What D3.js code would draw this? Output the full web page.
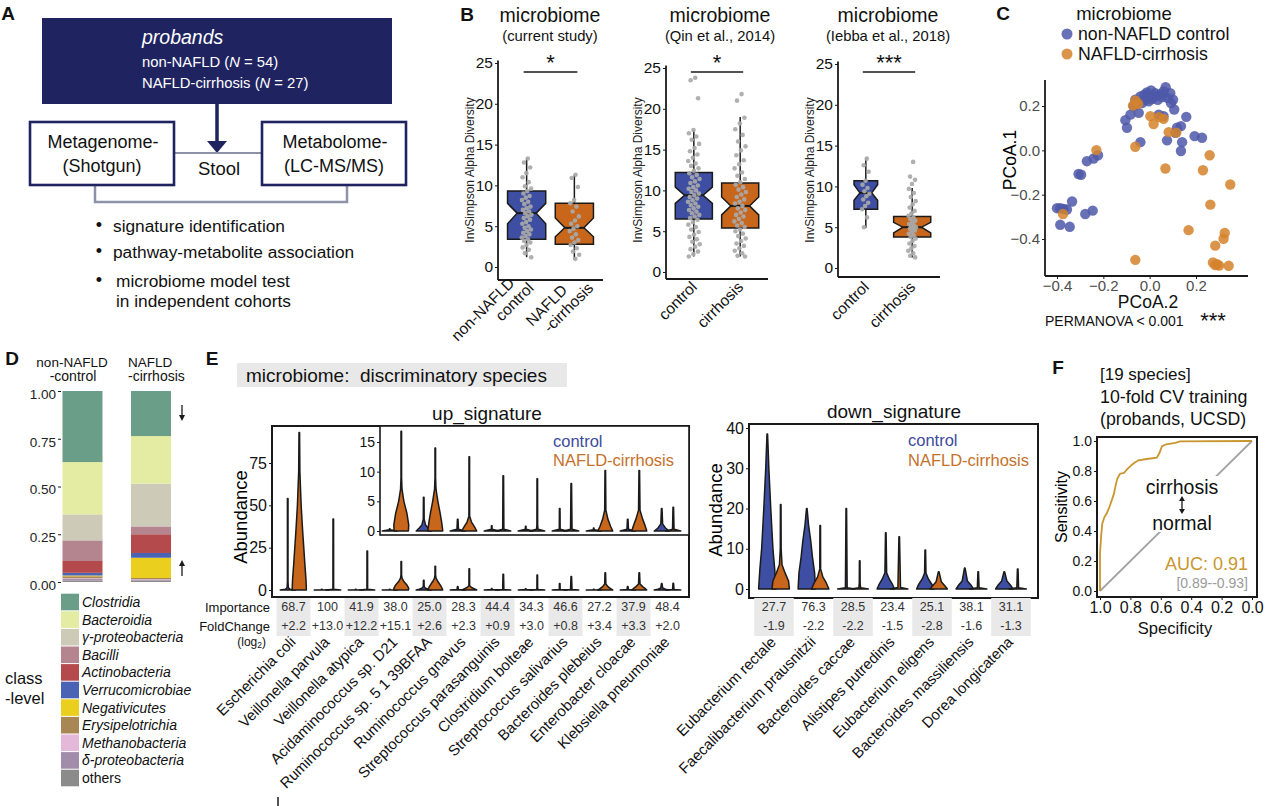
<!DOCTYPE html>
<html>
<head>
<meta charset="utf-8">
<script src="https://cdn.jsdelivr.net/npm/d3@7"></script>
<style>
	body { margin: 0; background: #fff; }
	svg { font-family: "Liberation Sans", Arial, Helvetica, sans-serif; }
	text { white-space: pre; }
</style>
</head>
<body>
<script>

// ---- A : study design
var cohortNames = ['non-NAFLD', 'NAFLD-cirrhosis']
var cohortN = [54, 27]
var analyses = ['signature identification', 'pathway-metabolite association', 'microbiome model test']

// ---- B : alpha diversity
var bStudies = ['(current study)', '(Qin et al., 2014)', '(Iebba et al., 2018)']
var bGroups = [[['non-NAFLD', 'control'], ['NAFLD', '-cirrhosis']], [['control'], ['cirrhosis']], [['control'], ['cirrhosis']]]
var bStars = ['*', '*', '***']
var bTicks = [0, 5, 10, 15, 20, 25]
// [whiskerLo, q1, notchLo, median, notchHi, q3, whiskerHi]
var bBoxCtrl = [[1.2, 3.4, 5.3, 6.6, 7.8, 9.3, 13.3], [1.9, 6.5, 8.4, 9.4, 10.4, 12.2, 17.4], [4.9, 7.2, 8.3, 9.2, 10.2, 10.7, 13.4]]
var bBoxCirr = [[0.9, 2.8, 3.7, 4.8, 6.0, 7.8, 11.3], [1.9, 5.4, 7.0, 8.1, 9.2, 10.9, 19.0], [1.3, 3.8, 4.3, 5.0, 5.6, 6.3, 9.8]]
var bPtsCtrl = [
	[13.3, 12.8, 12.2, 11.5, 11.0, 10.4, 9.9, 9.6, 9.3, 9.0, 8.7, 8.5, 8.2, 8.0, 7.7, 7.4, 7.2, 7.0, 6.8, 6.6, 6.4, 6.2, 6.0, 5.8, 5.5, 5.3, 5.0, 4.8, 4.6, 4.4, 4.2, 4.0, 3.8, 3.6, 3.4, 3.2, 3.0, 2.7, 2.4, 2.1, 1.7, 1.2],
	[23.8, 23.5, 21.3, 17.4, 17.0, 16.6, 16.2, 15.7, 15.2, 14.8, 14.4, 14.0, 13.6, 13.3, 13.0, 12.7, 12.4, 12.1, 11.9, 11.6, 11.4, 11.1, 10.9, 10.6, 10.4, 10.2, 10.0, 9.8, 9.6, 9.4, 9.2, 9.0, 8.8, 8.6, 8.4, 8.2, 8.0, 7.8, 7.6, 7.4, 7.2, 7.0, 6.8, 6.6, 6.4, 6.1, 5.8, 5.5, 5.2, 4.9, 4.6, 4.3, 4.0, 3.7, 3.4, 3.1, 2.8, 2.5, 2.2, 1.9],
	[13.4, 12.6, 11.8, 10.7, 10.2, 9.8, 9.4, 9.1, 8.8, 8.4, 8.0, 7.6, 7.2, 6.2, 5.0]
]
var bPtsCirr = [
	[11.3, 10.9, 9.8, 8.2, 7.8, 7.4, 6.8, 6.2, 5.7, 5.3, 5.0, 4.7, 4.4, 4.0, 3.6, 3.3, 3.0, 2.7, 2.3, 1.9, 1.5, 1.0],
	[21.8, 21.0, 18.9, 18.2, 17.5, 16.8, 16.0, 15.4, 14.9, 14.3, 13.7, 13.2, 12.7, 12.2, 11.8, 11.4, 11.0, 10.7, 10.4, 10.1, 9.8, 9.5, 9.2, 8.9, 8.6, 8.4, 8.1, 7.8, 7.6, 7.3, 7.0, 6.8, 6.5, 6.2, 6.0, 5.7, 5.5, 5.2, 5.0, 4.7, 4.4, 4.1, 3.8, 3.5, 3.2, 2.9, 2.6, 2.3, 2.0, 1.9],
	[13.0, 11.2, 10.8, 10.3, 9.7, 9.2, 8.7, 8.2, 7.8, 7.4, 7.0, 6.7, 6.4, 6.2, 6.0, 5.8, 5.6, 5.4, 5.2, 5.1, 5.0, 4.9, 4.8, 4.6, 4.4, 4.2, 4.0, 3.8, 3.6, 3.3, 3.0, 2.7, 2.4, 2.1, 1.8, 1.5, 1.3]
]

// ---- C : PCoA
var cTicks = [-0.4, -0.2, 0.0, 0.2]
var cCtrlX = [-0.400, -0.386, -0.371, -0.357, -0.335, -0.386, -0.345, -0.307, -0.296, -0.271, -0.242, -0.223, -0.278, -0.246, -0.105, -0.098, -0.083, -0.069, -0.047, -0.062, -0.040, -0.023, -0.012, 0.006, 0.017, 0.035, 0.046, 0.060, 0.069, 0.078, 0.092, 0.106, 0.039, 0.060, 0.118, 0.135, 0.158, 0.111, 0.075, -0.040, 0.140, 0.135, 0.194, 0.226, -0.004, 0.010, -0.019, 0.024, 0.089, 0.101, -0.033, 0.030, 0.055, -0.010]
var cCtrlY = [-0.261, -0.261, -0.264, -0.267, -0.231, -0.336, -0.345, -0.107, -0.110, -0.049, -0.037, -0.022, -0.287, -0.272, 0.136, 0.102, 0.161, 0.199, 0.169, 0.228, 0.243, 0.251, 0.261, 0.270, 0.243, 0.228, 0.252, 0.266, 0.285, 0.236, 0.213, 0.184, 0.161, 0.154, 0.102, 0.109, 0.151, 0.079, 0.045, 0.037, 0.037, -0.003, 0.064, 0.057, 0.221, 0.231, 0.228, 0.258, 0.258, 0.228, 0.213, 0.245, 0.240, 0.245]
var cCirrX = [-0.230, -0.062, -0.062, -0.072, 0.003, 0.017, 0.068, 0.082, 0.060, 0.259, 0.230, 0.348, 0.262, 0.168, 0.324, 0.319, 0.283, 0.273, 0.291, 0.341, 0.283, -0.062, -0.374, -0.050, 0.300, 0.115, 0.040]
var cCirrY = [0.001, 0.016, 0.225, 0.202, 0.154, 0.119, -0.082, 0.082, 0.142, -0.022, -0.090, -0.154, -0.245, -0.360, -0.373, -0.399, -0.430, -0.506, -0.514, -0.521, -0.518, -0.494, -0.287, 0.210, -0.520, 0.080, 0.150]

// ---- D : class-level composition
var dClasses = ['Clostridia', 'Bacteroidia', 'γ-proteobacteria', 'Bacilli', 'Actinobacteria', 'Verrucomicrobiae', 'Negativicutes', 'Erysipelotrichia', 'Methanobacteria', 'δ-proteobacteria', 'others']
var dColors = ['#6b9e89', '#e4eba2', '#cdcbb7', '#b4848f', '#b54a4c', '#4b63b5', '#ebcf1f', '#a98755', '#e3b8d9', '#a18ca9', '#8b8b8b']
var dCtrl = [0.372, 0.274, 0.136, 0.108, 0.062, 0.014, 0.004, 0.010, 0.004, 0.008, 0.008]
var dCirr = [0.236, 0.249, 0.224, 0.041, 0.098, 0.025, 0.106, 0.006, 0.002, 0.005, 0.008]
var dTicks = [0, 0.25, 0.5, 0.75, 1]

// ---- E : discriminatory species
var upSpecies = ['Escherichia coli', 'Veillonella parvula', 'Veillonella atypica', 'Acidaminococcus sp. D21', 'Ruminococcus sp. 5 1 39BFAA', 'Ruminococcus gnavus', 'Streptococcus parasanguinis', 'Clostridium bolteae', 'Streptococcus salivarius', 'Bacteroides plebeius', 'Enterobacter cloacae', 'Klebsiella pneumoniae']
var upImportance = [68.7, 100, 41.9, 38.0, 25.0, 28.3, 44.4, 34.3, 46.6, 27.2, 37.9, 48.4]
var upFold = [2.2, 13.0, 12.2, 15.1, 2.6, 2.3, 0.9, 3.0, 0.8, 3.4, 3.3, 2.0]
// violin profiles: [abundance, relative density]
var upCtrlDens = [
	[[0, 1], [0.5, 0.3], [1.5, 0.08], [5, 0.03], [54, 0.02]],
	[[0, 1], [0.2, 0.04], [0.4, 0.02]],
	[[0, 1], [0.2, 0.04], [0.4, 0.02]],
	[[0, 1], [0.2, 0.04], [0.4, 0.02]],
	[[0, 1], [0.5, 0.6], [1, 0.25], [2, 0.06], [5.7, 0.02]],
	[[0, 1], [0.3, 0.1], [2, 0.02]],
	[[0, 1], [0.3, 0.05], [0.9, 0.02]],
	[[0, 1], [0.3, 0.05], [0.8, 0.02]],
	[[0, 1], [0.3, 0.06], [3.8, 0.02]],
	[[0, 1], [0.2, 0.05], [0.5, 0.02]],
	[[0, 1], [0.3, 0.1], [2, 0.02]],
	[[0, 1], [0.5, 0.5], [1.2, 0.12], [3.8, 0.02]]
]
var upCirrDens = [
	[[0, 0.95], [6, 0.9], [15, 0.75], [25, 0.6], [35, 0.45], [50, 0.25], [70, 0.08], [93, 0.02]],
	[[0, 1], [0.4, 0.05], [42, 0.02]],
	[[0, 1], [0.4, 0.05], [23, 0.02]],
	[[0, 0.95], [1, 1], [3, 0.75], [5, 0.35], [7, 0.1], [9, 0.04], [16.8, 0.02]],
	[[0, 1], [1.5, 0.85], [3, 0.65], [5, 0.35], [7, 0.1], [9, 0.03], [14, 0.02]],
	[[0, 1], [0.7, 0.7], [1.5, 0.3], [2.5, 0.05], [12.5, 0.02]],
	[[0, 1], [0.3, 0.08], [9.3, 0.02]],
	[[0, 1], [0.3, 0.1], [1, 0.05], [8.8, 0.02]],
	[[0, 1], [0.3, 0.1], [8, 0.02]],
	[[0, 1], [0.8, 0.7], [2, 0.35], [3.5, 0.08], [10.2, 0.02]],
	[[0, 1], [1, 0.75], [2, 0.45], [3.5, 0.1], [10.2, 0.02]],
	[[0, 1], [0.3, 0.1], [4, 0.02]]
]
var upTicks = [0, 25, 50, 75]
var insetTicks = [0, 5, 10, 15]

var downSpecies = ['Eubacterium rectale', 'Faecalibacterium prausnitzii', 'Bacteroides caccae', 'Alistipes putredinis', 'Eubacterium eligens', 'Bacteroides massiliensis', 'Dorea longicatena']
var downImportance = [27.7, 76.3, 28.5, 23.4, 25.1, 38.1, 31.1]
var downFold = [-1.9, -2.2, -2.2, -1.5, -2.8, -1.6, -1.3]
var downCtrlDens = [
	[[0, 1], [5, 0.85], [10, 0.65], [20, 0.4], [30, 0.18], [38.5, 0.02]],
	[[0, 1], [4, 0.9], [8, 0.65], [12, 0.45], [16, 0.2], [20, 0.02]],
	[[0, 1], [0.3, 0.1], [20, 0.02]],
	[[0, 1], [1, 0.8], [2.5, 0.4], [4, 0.1], [14, 0.02]],
	[[0, 1], [1, 0.8], [2.5, 0.35], [4, 0.08], [9.7, 0.02]],
	[[0, 1], [1, 0.7], [2, 0.3], [5.2, 0.02]],
	[[0, 1], [1, 0.7], [2, 0.3], [4.3, 0.02]]
]
var downCirrDens = [
	[[0, 1], [2, 0.9], [4, 0.5], [6, 0.15], [10, 0.05], [21, 0.02]],
	[[0, 1], [1.5, 0.7], [3, 0.3], [5, 0.05], [15.8, 0.02]],
	[[0, 1], [0.3, 0.1], [1.5, 0.05], [7, 0.02]],
	[[0, 1], [0.4, 0.15], [13, 0.02]],
	[[0, 1], [0.8, 0.7], [1.8, 0.3], [4.3, 0.02]],
	[[0, 1], [0.3, 0.1], [4.3, 0.02]],
	[[0, 1], [0.3, 0.1], [5, 0.02]]
]
var downTicks = [0, 10, 20, 30, 40]

// ---- F : ROC
var rocSpec = [1.000, 1.000, 0.993, 0.985, 0.971, 0.956, 0.938, 0.923, 0.908, 0.897, 0.886, 0.868, 0.842, 0.824, 0.802, 0.776, 0.747, 0.692, 0.626, 0.609, 0.593, 0.565, 0.505, 0.473, 0.000]
var rocSens = [0.000, 0.249, 0.360, 0.449, 0.493, 0.516, 0.560, 0.604, 0.649, 0.704, 0.749, 0.782, 0.787, 0.809, 0.831, 0.853, 0.871, 0.880, 0.889, 0.920, 0.964, 0.978, 0.987, 0.998, 1.000]
var rocTicks = [0, 0.2, 0.4, 0.6, 0.8, 1]

// ------------------------------------------------------------

var BLUE = '#3e4ea2'
var ORANGE = '#c8661c'
var INK = '#1a1a1a'

var svg = d3.select('body')
	.append('svg')
	.attr('width', 1269)
	.attr('height', 806)

function txt(g, x, y, s, o) {
	o = o || {}
	return g.append('text')
		.attr('x', x)
		.attr('y', y)
		.attr('font-size', o.size || 14)
		.attr('text-anchor', o.anchor || 'start')
		.attr('dominant-baseline', 'central')
		.attr('fill', o.fill || '#111')
		.attr('font-style', o.italic ? 'italic' : null)
		.attr('font-weight', o.bold ? 'bold' : null)
		.text(s)
}

function styleAxis(a, size, color) {
	a.attr('font-family', null).attr('font-size', null)
	a.select('.domain').remove()
	a.selectAll('line').attr('stroke', INK)
	a.selectAll('text').attr('font-size', size).attr('fill', color || '#111')
}

function hline(g, x1, x2, y, w) {
	g.append('line').attr('x1', x1).attr('x2', x2).attr('y1', y).attr('y2', y)
		.attr('stroke', INK).attr('stroke-width', w || 1.6)
}

function vline(g, x, y1, y2, w) {
	g.append('line').attr('x1', x).attr('x2', x).attr('y1', y1).attr('y2', y2)
		.attr('stroke', INK).attr('stroke-width', w || 1.6)
}

// panel letters
var letters = [['A', 8, 13], ['B', 467, 14], ['C', 1003, 13], ['D', 12, 358], ['E', 212, 358], ['F', 1058, 367]]
letters.forEach(l => txt(svg, l[1], l[2], l[0], { size: 19, bold: true, anchor: 'middle' }))

// ======================= A =======================
var NAVY = '#1f2461'
var gA = svg.append('g')
gA.append('rect').attr('x', 42).attr('y', 18).attr('width', 350).attr('height', 86).attr('fill', NAVY)
txt(gA, 142, 37, 'probands', { size: 19.5, italic: true, fill: '#fff' })
cohortNames.forEach((c, i) => {
	var t = txt(gA, 142, 62 + i * 21, c + ' (', { size: 14.8, fill: '#fff' })
	t.append('tspan').attr('font-style', 'italic').text('N')
	t.append('tspan').text(' = ' + cohortN[i] + ')')
})
gA.append('line').attr('x1', 217).attr('x2', 217).attr('y1', 104).attr('y2', 143)
	.attr('stroke', NAVY).attr('stroke-width', 3.5)
gA.append('path').attr('d', 'M207,141 L227,141 L217,153 Z').attr('fill', NAVY)
gA.append('line').attr('x1', 173).attr('x2', 262).attr('y1', 153).attr('y2', 153)
	.attr('stroke', '#8d92a6').attr('stroke-width', 2.2)
gA.append('path').attr('d', 'M95,185 L95,202 L347,202 L347,185')
	.attr('fill', 'none').attr('stroke', '#8d92a6').attr('stroke-width', 2.5)
var boxesA = [[30, 'Metagenome-', '(Shotgun)'], [262, 'Metabolome-', '(LC-MS/MS)']]
boxesA.forEach(b => {
	gA.append('rect').attr('x', b[0]).attr('y', 122).attr('width', 144).attr('height', 63)
		.attr('fill', '#fff').attr('stroke', NAVY).attr('stroke-width', 2.6)
	txt(gA, b[0] + 73, 142, b[1], { size: 18, anchor: 'middle' })
	txt(gA, b[0] + 72, 166, b[2], { size: 18, anchor: 'middle' })
})
txt(gA, 219, 168, 'Stool', { size: 18.5, anchor: 'middle' })
analyses.forEach((s, i) => {
	var yy = [226, 252, 281][i]
	txt(gA, 99, yy - 1, '•', { size: 18, anchor: 'middle' })
	txt(gA, i === 2 ? 116 : 113, yy, s, { size: 17.3 })
})
txt(gA, 116, 301, 'in independent cohorts', { size: 17.3 })

// ======================= B =======================
var bAxisX = [498, 666, 838]
var bRight = [603, 768, 940]
var bZero = [267, 272, 268]
var bTop = [63, 68, 64]
var bBottom = [280, 279, 277]
var bTitleX = [550, 720, 888]
var bLabX = [470, 638, 810]

function notchBox(g, cx, hw, s, y, fill) {
	var ni = hw * 0.5
	vline(g, cx, y(s[6]), y(s[5]), 1.5)
	vline(g, cx, y(s[1]), y(s[0]), 1.5)
	var p = d3.path()
	p.moveTo(cx - hw, y(s[5])); p.lineTo(cx + hw, y(s[5])); p.lineTo(cx + hw, y(s[4]))
	p.lineTo(cx + hw - ni, y(s[3])); p.lineTo(cx + hw, y(s[2])); p.lineTo(cx + hw, y(s[1]))
	p.lineTo(cx - hw, y(s[1])); p.lineTo(cx - hw, y(s[2])); p.lineTo(cx - hw + ni, y(s[3]))
	p.lineTo(cx - hw, y(s[4])); p.closePath()
	g.append('path').attr('d', p.toString()).attr('fill', fill).attr('stroke', INK).attr('stroke-width', 1.5)
	hline(g, cx - hw + ni, cx + hw - ni, y(s[3]), 2)
}

bStudies.forEach((study, k) => {
	var g = svg.append('g')
	var y = d3.scaleLinear().domain([0, 25]).range([bZero[k], bTop[k]])
	var x = d3.scalePoint().domain([0, 1]).range([bAxisX[k], bRight[k]]).padding(0.6)
	txt(g, bTitleX[k], 15, 'microbiome', { size: 19.5, anchor: 'middle' })
	txt(g, bTitleX[k], 36, study, { size: 14.8, anchor: 'middle' })

	var ax = g.append('g').attr('transform', `translate(${bAxisX[k]},0)`)
		.call(d3.axisLeft(y).tickValues(bTicks).tickSize(3).tickPadding(2))
	styleAxis(ax, 15.5)
	vline(g, bAxisX[k], y(25.3), bBottom[k], 1.8)
	hline(g, bAxisX[k], bRight[k], bBottom[k], 1.8)
	g.append('text').attr('transform', `translate(${bLabX[k]},170) rotate(-90)`)
		.attr('text-anchor', 'middle').attr('dominant-baseline', 'central')
		.attr('font-size', 12).attr('fill', '#222').text('InvSimpson Alpha Diversity')

	var step = x.step()
	var nC = bPtsCtrl[k].length, nN = bPtsCirr[k].length
	var hwC = step * 0.4, hwN = step * 0.4
	if (k === 2) hwC = step * 0.4 * Math.sqrt(nC / nN)
	notchBox(g, x(0), hwC, bBoxCtrl[k], y, BLUE)
	notchBox(g, x(1), hwN, bBoxCirr[k], y, ORANGE)

	var jw = [5, 6, 4][k]
	var pts = bPtsCtrl[k].map((v, i) => [0, v, i]).concat(bPtsCirr[k].map((v, i) => [1, v, i]))
	g.selectAll('circle.pt').data(pts).join('circle')
		.attr('class', 'pt')
		.attr('cx', d => x(d[0]) + (((d[2] + 1) * 0.6180339) % 1 - 0.5) * 2 * jw)
		.attr('cy', d => y(d[1]))
		.attr('r', 2.3)
		.attr('fill', '#a9a9a9')
		.attr('opacity', 0.92)

	// significance
	hline(g, x(0) - 3, x(1) + 3, 72, 1.6)
	txt(g, (x(0) + x(1)) / 2, 62, bStars[k], { size: 22, anchor: 'middle' })

	// rotated group labels
	bGroups[k].forEach((lines, j) => {
		var cx = x(j)
		if (lines.length === 1) {
			g.append('text').attr('transform', `translate(${cx + 4},288) rotate(-45)`)
				.attr('text-anchor', 'end').attr('font-size', 15.5).attr('fill', '#111').text(lines[0])
		} else {
			var off = j === 0 ? [8, -10] : [20, -20]
			var t = g.append('text').attr('transform', `translate(${cx + off[0]},289) rotate(-45)`)
				.attr('text-anchor', 'end').attr('font-size', 15.5).attr('fill', '#111')
			t.append('tspan').attr('x', off[1]).attr('y', -17).text(lines[0])
			t.append('tspan').attr('x', 0).attr('y', 0).text(lines[1])
		}
	})
})

// ======================= C =======================
var gC = svg.append('g')
var xC = d3.scaleLinear().domain([-0.4, 0.2]).range([1057, 1196])
var yC = d3.scaleLinear().domain([-0.4, 0.2]).range([239, 106])
var C_BLUE = '#4d58a8', C_ORANGE = '#d4832c'
txt(gC, 1124, 13, 'microbiome', { size: 18.5, anchor: 'middle' })
gC.append('circle').attr('cx', 1067).attr('cy', 34).attr('r', 5.5).attr('fill', C_BLUE).attr('opacity', 0.85)
txt(gC, 1078, 34, 'non-NAFLD control', { size: 17.7 })
gC.append('circle').attr('cx', 1067).attr('cy', 54).attr('r', 5.5).attr('fill', C_ORANGE).attr('opacity', 0.85)
txt(gC, 1078, 54, 'NAFLD-cirrhosis', { size: 17.7 })

var axC = gC.append('g').attr('transform', 'translate(1045,0)')
	.call(d3.axisLeft(yC).tickValues(cTicks).tickSize(3).tickPadding(2).tickFormat(d3.format('.1f')))
styleAxis(axC, 15, '#4d4d4d')
var axCx = gC.append('g').attr('transform', 'translate(0,276)')
	.call(d3.axisBottom(xC).tickValues(cTicks).tickSize(3).tickPadding(1).tickFormat(d3.format('.1f')))
styleAxis(axCx, 15, '#4d4d4d')
vline(gC, 1045, 80, 276, 1.8)
hline(gC, 1045, 1248, 276, 1.8)
gC.append('text').attr('transform', 'translate(1010,160) rotate(-90)')
	.attr('text-anchor', 'middle').attr('dominant-baseline', 'central').attr('font-size', 17.5).text('PCoA.1')
txt(gC, 1148, 302, 'PCoA.2', { size: 17.5, anchor: 'middle' })
txt(gC, 1045, 321, 'PERMANOVA < 0.001', { size: 14 })
txt(gC, 1213, 320, '***', { size: 22, anchor: 'middle' })

gC.selectAll('circle.c0').data(cCtrlX).join('circle').attr('class', 'c0')
	.attr('cx', d => xC(d)).attr('cy', (d, i) => yC(cCtrlY[i])).attr('r', 5.2)
	.attr('fill', C_BLUE).attr('opacity', 0.85)
gC.selectAll('circle.c1').data(cCirrX).join('circle').attr('class', 'c1')
	.attr('cx', d => xC(d)).attr('cy', (d, i) => yC(cCirrY[i])).attr('r', 5.2)
	.attr('fill', C_ORANGE).attr('opacity', 0.85)

// ======================= D =======================
var gD = svg.append('g')
var yD = d3.scaleLinear().domain([0, 1]).range([582, 391])
var xD = d3.scalePoint().domain(['ctrl', 'cirr']).range([82.5, 151])
var dRows = [dCtrl, dCirr].map((vals, r) => {
	var o = { grp: r === 0 ? 'ctrl' : 'cirr' }
	dClasses.forEach((c, i) => o[c] = vals[i])
	return o
})
var dStack = d3.stack().keys(dClasses.slice().reverse())(dRows)
gD.selectAll('g.layer').data(dStack).join('g').attr('class', 'layer')
	.attr('fill', d => dColors[dClasses.indexOf(d.key)])
	.selectAll('rect').data(d => d).join('rect')
	.attr('x', d => xD(d.data.grp) - 20)
	.attr('width', 40)
	.attr('y', d => yD(d[1]))
	.attr('height', d => yD(d[0]) - yD(d[1]))

var axD = gD.append('g').attr('transform', 'translate(61,0)')
	.call(d3.axisLeft(yD).tickValues(dTicks).tickSize(3).tickPadding(2).tickFormat(d3.format('.2f')))
styleAxis(axD, 13.5, '#222')
axD.selectAll('text').attr('dy', '0.55em')

txt(gD, 72, 362, 'non-NAFLD', { size: 13.5, anchor: 'middle' })
txt(gD, 73, 376, '-control', { size: 14, anchor: 'middle' })
txt(gD, 128, 362, 'NAFLD', { size: 13.5 })
txt(gD, 128, 376, '-cirrhosis', { size: 14 })
// change arrows
gD.append('line').attr('x1', 182).attr('x2', 182).attr('y1', 405).attr('y2', 418).attr('stroke', INK).attr('stroke-width', 1.3)
gD.append('path').attr('d', 'M179,415 L185,415 L182,421 Z').attr('fill', INK)
gD.append('line').attr('x1', 182).attr('x2', 182).attr('y1', 563).attr('y2', 576).attr('stroke', INK).attr('stroke-width', 1.3)
gD.append('path').attr('d', 'M179,566 L185,566 L182,560 Z').attr('fill', INK)

dClasses.forEach((c, i) => {
	var cy = 602 + i * 17.6
	gD.append('rect').attr('x', 61).attr('y', cy - 8.3).attr('width', 18).attr('height', 16.6).attr('fill', dColors[i])
	txt(gD, 82, cy, c, { size: 14, italic: c !== 'others', fill: '#111' })
})
txt(gD, 5, 678, 'class', { size: 16.5 })
txt(gD, 5, 698, '-level', { size: 16.5 })

// ======================= E =======================
var gE = svg.append('g')
gE.append('rect').attr('x', 237).attr('y', 363).attr('width', 330).attr('height', 24).attr('fill', '#e8e8e8')
txt(gE, 246, 375, 'microbiome:  discriminatory species', { size: 19 })

function violin(g, prof, cx, y, hw, fill) {
	var w = d3.scaleLinear().domain([0, 1]).range([0, hw])
	g.append('path').datum(prof)
		.attr('d', d3.area()
			.y(d => y(d[0]))
			.x0(d => cx - Math.max(w(d[1]), 0.3))
			.x1(d => cx + Math.max(w(d[1]), 0.3)))
		.attr('fill', fill)
		.attr('stroke', INK)
		.attr('stroke-width', 1.5)
		.attr('stroke-linejoin', 'round')
}

function sigTable(g, x, species, imp, fold, fmtFold) {
	var st = x.step()
	species.forEach((s, i) => {
		var cx = x(s) + x.bandwidth() / 2
		if (i % 2 === 0)
			g.append('rect').attr('x', cx - st / 2).attr('y', 598).attr('width', st).attr('height', 38).attr('fill', '#e9e9e9')
		txt(g, cx, 607, imp[i] >= 100 ? String(imp[i]) : imp[i].toFixed(1), { size: 12.5, anchor: 'middle', fill: '#333' })
		txt(g, cx, 626, fmtFold(fold[i]), { size: 12.5, anchor: 'middle', fill: '#333' })
		g.append('text').attr('transform', `translate(${cx + 3},643) rotate(-45)`)
			.attr('text-anchor', 'end').attr('font-size', 15).attr('fill', '#111').text(s)
	})
}

function panelBox(g, x0, x1, y0, y1) {
	g.append('rect').attr('x', x0).attr('y', y0).attr('width', x1 - x0).attr('height', y1 - y0)
		.attr('fill', 'none').attr('stroke', INK).attr('stroke-width', 2)
}

// up_signature
var xUp = d3.scaleBand().domain(upSpecies).range([276.5, 684.5])
var yUp = d3.scaleLinear().domain([0, 75]).range([590, 463])
var yIn = d3.scaleLinear().domain([0, 15]).range([531, 442])
var upStep = xUp.step()
txt(gE, 487, 413, 'up_signature', { size: 19, anchor: 'middle' })
var axUp = gE.append('g').attr('transform', 'translate(272,0)')
	.call(d3.axisLeft(yUp).tickValues(upTicks).tickSize(3).tickPadding(2))
styleAxis(axUp, 16)
gE.append('text').attr('transform', 'translate(240,517) rotate(-90)')
	.attr('text-anchor', 'middle').attr('dominant-baseline', 'central').attr('font-size', 18.5).text('Abundance')
upSpecies.forEach((s, i) => {
	var cx = xUp(s) + xUp.bandwidth() / 2
	violin(gE, upCtrlDens[i], cx - upStep * 0.17, yUp, upStep * 0.22, BLUE)
	violin(gE, upCirrDens[i], cx + upStep * 0.17, yUp, upStep * 0.22, ORANGE)
})
panelBox(gE, 272, 689, 426, 597)

// inset
var gIn = gE.append('g')
gIn.append('rect').attr('x', 380).attr('y', 426).attr('width', 309).attr('height', 109)
	.attr('fill', '#fff').attr('stroke', INK).attr('stroke-width', 1.6)
var axIn = gIn.append('g').attr('transform', 'translate(380,0)')
	.call(d3.axisLeft(yIn).tickValues(insetTicks).tickSize(3).tickPadding(2))
styleAxis(axIn, 14)
upSpecies.forEach((s, i) => {
	if (i < 3) return
	var cx = xUp(s) + xUp.bandwidth() / 2
	violin(gIn, upCtrlDens[i], cx - upStep * 0.17, yIn, upStep * 0.22, BLUE)
	violin(gIn, upCirrDens[i], cx + upStep * 0.17, yIn, upStep * 0.22, ORANGE)
})
txt(gIn, 553, 441, 'control', { size: 16.5, fill: '#3d4b9c' })
txt(gIn, 553, 460, 'NAFLD-cirrhosis', { size: 16.5, fill: '#c4712a' })

sigTable(gE, xUp, upSpecies, upImportance, upFold, v => '+' + v.toFixed(1))
txt(gE, 270, 607, 'Importance', { size: 13, anchor: 'end' })
txt(gE, 270, 626, 'FoldChange', { size: 13, anchor: 'end' })
var lg = txt(gE, 266, 642, '(log', { size: 12, anchor: 'end' })
lg.append('tspan').attr('font-size', 8.5).attr('dy', 3).text('2')
lg.append('tspan').attr('dy', -3).text(')')
vline(gE, 278, 797, 806, 1.5)

// down_signature
var xDown = d3.scaleBand().domain(downSpecies).range([754.25, 1030.75])
var yDown = d3.scaleLinear().domain([0, 40]).range([589, 428])
var dnStep = xDown.step()
txt(gE, 894, 411, 'down_signature', { size: 19, anchor: 'middle' })
var axDn = gE.append('g').attr('transform', 'translate(749,0)')
	.call(d3.axisLeft(yDown).tickValues(downTicks).tickSize(3).tickPadding(2))
styleAxis(axDn, 16)
gE.append('text').attr('transform', 'translate(715,510) rotate(-90)')
	.attr('text-anchor', 'middle').attr('dominant-baseline', 'central').attr('font-size', 18.5).text('Abundance')
downSpecies.forEach((s, i) => {
	var cx = xDown(s) + xDown.bandwidth() / 2
	violin(gE, downCtrlDens[i], cx - dnStep * 0.17, yDown, dnStep * 0.22, BLUE)
	violin(gE, downCirrDens[i], cx + dnStep * 0.17, yDown, dnStep * 0.22, ORANGE)
})
panelBox(gE, 749, 1038, 424, 598)
txt(gE, 908, 440, 'control', { size: 16.5, fill: '#3d4b9c' })
txt(gE, 908, 460, 'NAFLD-cirrhosis', { size: 16.5, fill: '#c4712a' })
sigTable(gE, xDown, downSpecies, downImportance, downFold, v => '-' + Math.abs(v).toFixed(1))

// ======================= F =======================
var gF = svg.append('g')
var xF = d3.scaleLinear().domain([1, 0]).range([1100, 1252])
var yF = d3.scaleLinear().domain([0, 1]).range([591, 441])
var GOLD = '#c8962e'
txt(gF, 1100, 374, '[19 species]', { size: 17 })
txt(gF, 1100, 397, '10-fold CV training', { size: 17.8 })
txt(gF, 1100, 419, '(probands, UCSD)', { size: 17.8 })

var axF = gF.append('g').attr('transform', 'translate(1097,0)')
	.call(d3.axisLeft(yF).tickValues(rocTicks).tickSize(3).tickPadding(2).tickFormat(d3.format('.1f')))
styleAxis(axF, 14)
var axFx = gF.append('g').attr('transform', 'translate(0,597)')
	.call(d3.axisBottom(xF).tickValues(rocTicks).tickSize(3).tickPadding(2).tickFormat(d3.format('.1f')))
styleAxis(axFx, 16)
gF.append('text').attr('transform', 'translate(1061,507) rotate(-90)')
	.attr('text-anchor', 'middle').attr('dominant-baseline', 'central').attr('font-size', 16).text('Sensitivity')
txt(gF, 1175, 628, 'Specificity', { size: 16.5, anchor: 'middle' })

gF.append('line').attr('x1', xF(1)).attr('y1', yF(0)).attr('x2', xF(0)).attr('y2', yF(1))
	.attr('stroke', '#a3a3a3').attr('stroke-width', 1.8)
gF.append('path').datum(rocSpec)
	.attr('d', d3.line().x(d => xF(d)).y((d, i) => yF(rocSens[i])))
	.attr('fill', 'none').attr('stroke', GOLD).attr('stroke-width', 1.8)
gF.append('rect').attr('x', 1140).attr('y', 476).attr('width', 86).attr('height', 56).attr('fill', '#fff')
txt(gF, 1182, 487, 'cirrhosis', { size: 19.5, anchor: 'middle' })
gF.append('line').attr('x1', 1182).attr('x2', 1182).attr('y1', 499).attr('y2', 511).attr('stroke', INK).attr('stroke-width', 1.3)
gF.append('path').attr('d', 'M1179,501 L1185,501 L1182,496 Z M1179,509 L1185,509 L1182,514 Z').attr('fill', INK)
txt(gF, 1182, 523, 'normal', { size: 19.5, anchor: 'middle' })
txt(gF, 1248, 564, 'AUC: 0.91', { size: 18, anchor: 'end', fill: GOLD })
txt(gF, 1248, 583, '[0.89--0.93]', { size: 14, anchor: 'end', fill: '#9a9a9a' })
panelBox(gF, 1097, 1257, 437, 597)

</script>
</body>
</html>
